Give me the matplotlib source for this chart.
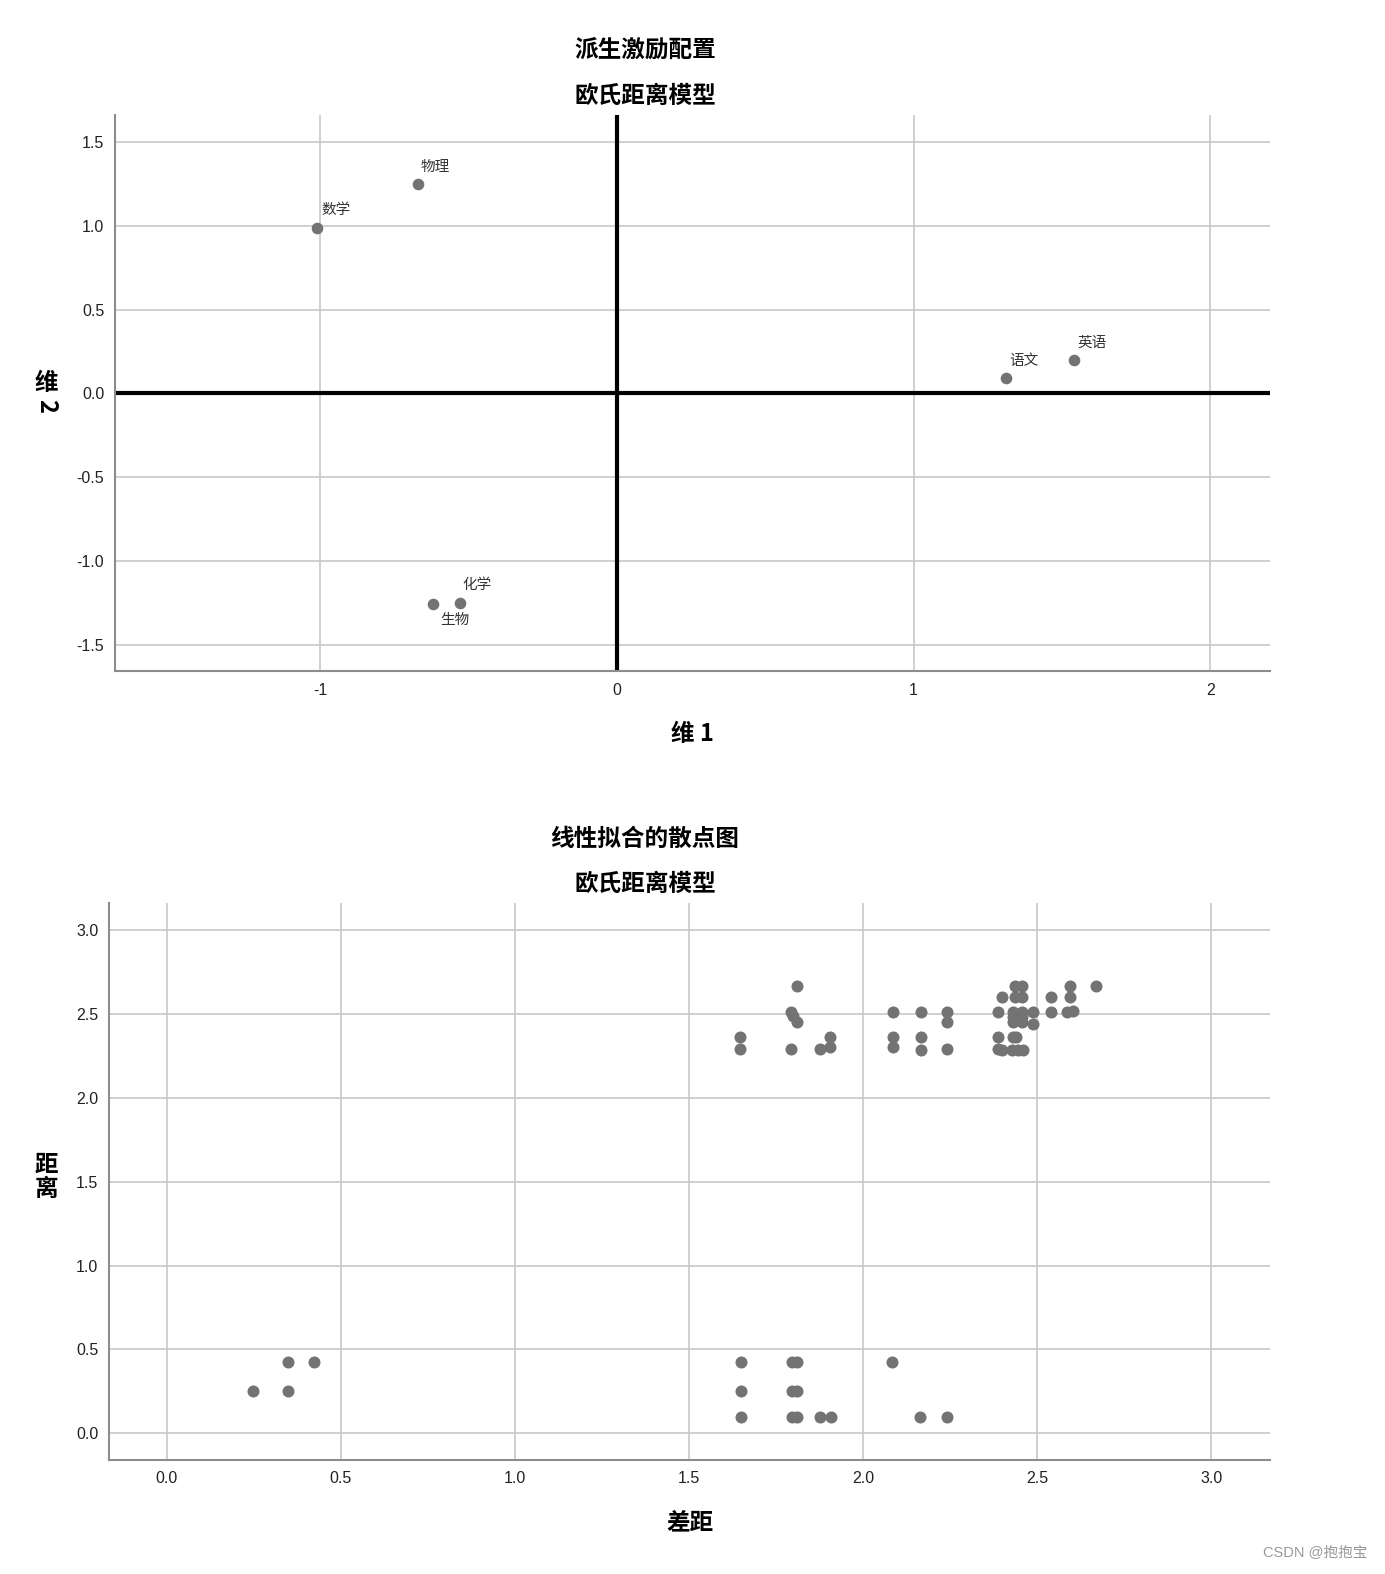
import matplotlib
matplotlib.use("Agg")
import matplotlib.pyplot as plt

plt.rcParams['font.family'] = ['Liberation Sans', 'Noto Sans CJK SC', 'DejaVu Sans']
plt.rcParams['axes.unicode_minus'] = False

# --- 派生激励配置 (stimulus configuration) ---
subjects = ['数学', '物理', '语文', '英语', '化学', '生物']
dim1 = [-1.01, -0.67, 1.31, 1.54, -0.53, -0.62]
dim2 = [0.99, 1.25, 0.09, 0.20, -1.25, -1.26]
# label offsets in pixels (dx, dy) relative to each point
label_offsets = [(19, 18), (17, 17), (18, 17), (18, 17), (17, 18), (22, -16)]

# --- 线性拟合的散点图 (disparities vs distances) ---
gap = [0.247, 0.348, 0.348, 0.424,
       1.649, 1.649, 1.649, 1.796, 1.810, 1.796, 1.810, 1.796, 1.810,
       1.876, 1.908, 2.083, 2.163, 2.241,
       1.646, 1.646, 1.809, 1.793, 1.800, 1.809, 1.793, 1.876, 1.905, 1.905,
       2.085, 2.085, 2.085, 2.165, 2.165, 2.165, 2.240, 2.240, 2.240,
       2.388, 2.388, 2.388, 2.398, 2.398, 2.436, 2.455, 2.436, 2.455,
       2.430, 2.455, 2.430, 2.455, 2.430, 2.455, 2.488, 2.488,
       2.430, 2.440, 2.426, 2.445, 2.460,
       2.538, 2.538, 2.594, 2.594, 2.584, 2.603, 2.670]
dist = [0.25, 0.425, 0.25, 0.425,
        0.425, 0.25, 0.095, 0.425, 0.425, 0.25, 0.25, 0.095, 0.095,
        0.095, 0.095, 0.425, 0.095, 0.095,
        2.36, 2.29, 2.667, 2.51, 2.49, 2.45, 2.29, 2.29, 2.36, 2.30,
        2.51, 2.36, 2.30, 2.51, 2.36, 2.285, 2.51, 2.45, 2.29,
        2.51, 2.36, 2.29, 2.60, 2.285, 2.667, 2.667, 2.60, 2.60,
        2.51, 2.51, 2.48, 2.48, 2.45, 2.45, 2.51, 2.44,
        2.36, 2.36, 2.285, 2.285, 2.285,
        2.60, 2.51, 2.667, 2.60, 2.51, 2.52, 2.667]

point_color = '#737373'
grid_color = '#c8c8c8'
spine_color = '#8c8c8c'
title_kw = dict(fontsize=17, fontweight='bold', ha='center', va='center',
                family=['Noto Sans CJK SC', 'DejaVu Sans'])

fig = plt.figure(figsize=(13.85, 15.74), dpi=100)
W, H = 1385, 1574


def style_axes(ax):
    for side in ['top', 'right']:
        ax.spines[side].set_visible(False)
    for side in ['left', 'bottom']:
        ax.spines[side].set_color(spine_color)
        ax.spines[side].set_linewidth(1.5)
    ax.grid(True, color=grid_color, linewidth=1.2)
    ax.set_axisbelow(True)
    ax.tick_params(length=0, labelsize=11.5, labelcolor='#222222', pad=8)


# top chart
ax1 = fig.add_axes([115.4 / W, 1 - 671.4 / H, (1269.6 - 115.4) / W, (671.4 - 115.4) / H])
style_axes(ax1)
ax1.set_xlim(-1.69, 2.2)
ax1.set_ylim(-1.66, 1.66)
ax1.set_xticks([-1, 0, 1, 2])
ax1.set_yticks([-1.5, -1.0, -0.5, 0.0, 0.5, 1.0, 1.5])
ax1.set_yticklabels(['-1.5', '-1.0', '-0.5', '0.0', '0.5', '1.0', '1.5'])
ax1.axhline(0, color='black', linewidth=3, zorder=2)
ax1.axvline(0, color='black', linewidth=3, zorder=2)
ax1.scatter(dim1, dim2, s=70, color=point_color, zorder=3, linewidths=0)
for name, x, y, (dx, dy) in zip(subjects, dim1, dim2, label_offsets):
    ax1.annotate(name, (x, y), xytext=(dx, dy), textcoords='offset pixels',
                 ha='center', va='center', fontsize=10.5, color='#333333')

# bottom chart
ax2 = fig.add_axes([109.4 / W, 1 - 1460.2 / H, (1269.6 - 109.4) / W, (1460.2 - 903.2) / H])
style_axes(ax2)
ax2.set_xlim(-0.164, 3.167)
ax2.set_ylim(-0.16, 3.16)
ax2.set_xticks([0, 0.5, 1.0, 1.5, 2.0, 2.5, 3.0])
ax2.set_xticklabels(['0.0', '0.5', '1.0', '1.5', '2.0', '2.5', '3.0'])
ax2.set_yticks([0, 0.5, 1.0, 1.5, 2.0, 2.5, 3.0])
ax2.set_yticklabels(['0.0', '0.5', '1.0', '1.5', '2.0', '2.5', '3.0'])
ax2.scatter(gap, dist, s=75, color=point_color, zorder=3, linewidths=0)

# titles and axis labels
fig.text(645 / W, 1 - 50 / H, '派生激励配置', **title_kw)
fig.text(645 / W, 1 - 96 / H, '欧氏距离模型', **title_kw)
fig.text(692 / W, 1 - 734 / H, '维 1', **title_kw)
fig.text(46 / W, 1 - 383 / H, '维', **title_kw)
fig.text(46 / W, 1 - 406 / H, '2', rotation=-90, **title_kw)

fig.text(645 / W, 1 - 839 / H, '线性拟合的散点图', **title_kw)
fig.text(645 / W, 1 - 884 / H, '欧氏距离模型', **title_kw)
fig.text(690 / W, 1 - 1522 / H, '差距', **title_kw)
fig.text(46 / W, 1 - 1165 / H, '距', **title_kw)
fig.text(46 / W, 1 - 1189 / H, '离', **title_kw)

fig.text(1315 / W, 1 - 1553 / H, 'CSDN @抱抱宝', fontsize=10.5, color='#999999',
         ha='center', va='center')

fig.savefig('out.png', dpi=100)
